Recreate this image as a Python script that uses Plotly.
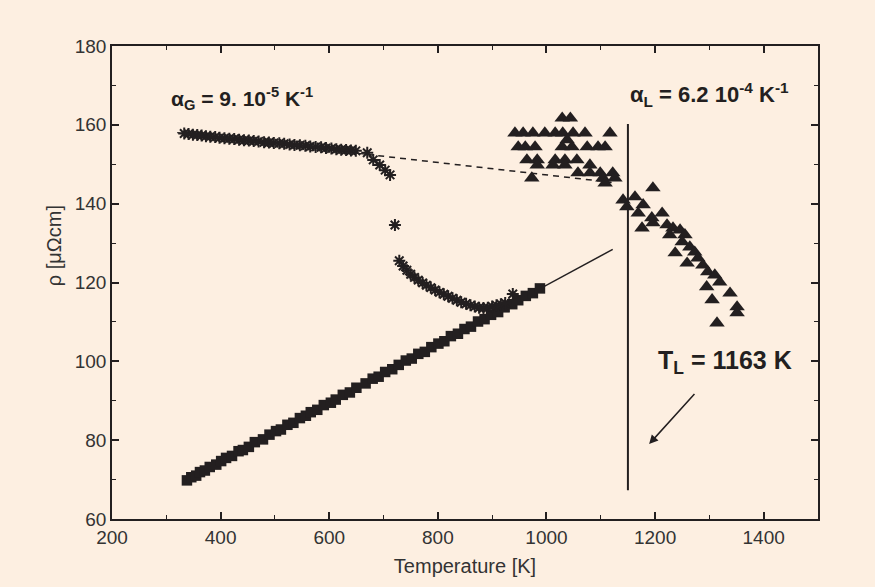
import plotly.graph_objects as go

# Crystalline state (squares): temperature [K], resistivity [µΩcm]
sq_T = [338, 346, 355, 362, 371, 380, 392, 401, 410, 421, 433, 441, 452, 463, 478,
        490, 502, 511, 523, 534, 546, 557, 566, 578, 590, 603, 612, 625, 638, 650,
        667, 680, 691, 703, 716, 728, 741, 752, 764, 776, 788, 801, 812, 824, 837,
        849, 861, 874, 886, 898, 911, 923, 937, 948, 962, 975, 988]
sq_rho = [69.8, 70.6, 71.0, 71.9, 72.3, 73.2, 73.8, 74.7, 75.5, 76.0, 77.2, 77.5, 78.3, 79.5, 80.2,
          81.4, 82.3, 82.7, 83.9, 84.4, 85.6, 86.2, 87.1, 87.7, 88.9, 89.5, 90.3, 91.5, 92.1, 93.3,
          94.4, 95.6, 96.1, 97.3, 98.0, 99.1, 100.2, 100.7, 101.9, 102.4, 103.6, 104.5, 105.1, 106.4, 107.0,
          108.2, 108.8, 110.1, 110.7, 111.8, 112.5, 113.7, 114.5, 115.5, 116.6, 117.3, 118.5]

# Amorphous film on heating (asterisks)
gl_T = [333, 341, 349, 357, 365, 373, 381, 390, 398, 407, 416, 425, 434, 443, 452,
        461, 470, 480, 489, 498, 508, 517, 527, 536, 546, 556, 565, 575, 585, 594,
        604, 613, 622, 631, 640, 649, 670, 681, 693, 703, 712,
        721,
        729, 736, 743, 750, 757, 764, 772, 779, 787, 795, 803, 811, 819, 827, 835,
        843, 852, 860, 868, 876, 884, 892, 900, 908, 916, 924, 938]
gl_rho = [157.8, 157.7, 157.5, 157.4, 157.3, 157.1, 157.0, 156.9, 156.7, 156.6, 156.5, 156.4, 156.2, 156.1, 156.0,
          155.9, 155.8, 155.6, 155.5, 155.4, 155.3, 155.2, 155.0, 154.9, 154.8, 154.7, 154.5, 154.4, 154.3, 154.1,
          154.0, 153.8, 153.7, 153.6, 153.5, 153.4, 152.9, 151.1, 149.8, 148.5, 147.3,
          134.6,
          125.5, 124.2, 123.1, 122.1, 121.3, 120.6, 119.9, 119.3, 118.7, 118.1, 117.5, 117.0, 116.5, 116.0, 115.5,
          115.0, 114.6, 114.2, 113.9, 113.6, 113.5, 113.6, 113.9, 114.2, 114.5, 114.8, 117.1]

# Liquid / melting region (triangles)
lq_T = [1029, 1044,
        942, 957, 975, 997, 1016, 1030, 1049, 1071, 1117,
        948, 961, 979, 1029, 1047, 1075, 1095, 1108, 1038,
        964, 983, 1016, 1034, 1056,
        983, 1012, 1034, 1080,
        1058, 1080, 1099, 1122,
        973, 1104, 1126, 1108,
        1196, 1163, 1141, 1178, 1148, 1169, 1213, 1194, 1196, 1176,
        1222, 1233, 1246, 1227, 1255, 1250, 1264, 1273, 1237, 1279,
        1259, 1288, 1297, 1310, 1319, 1295, 1338, 1305, 1351, 1351, 1314]
lq_rho = [161.7, 161.7,
          157.9, 157.9, 157.9, 157.9, 157.9, 157.9, 157.9, 157.9, 157.9,
          154.4, 154.4, 154.4, 154.4, 154.4, 154.4, 154.4, 154.4, 156.2,
          151.1, 151.1, 151.1, 151.1, 151.1,
          149.8, 149.8, 149.8, 149.8,
          147.8, 147.8, 147.8, 147.8,
          146.5, 146.5, 146.5, 145.2,
          144.0, 141.7, 140.9, 139.7, 139.2, 137.6, 137.6, 136.4, 135.1, 133.8,
          134.6, 133.8, 133.3, 132.1, 132.1, 130.3, 129.0, 127.7, 127.5, 126.2,
          124.9, 124.4, 122.7, 121.9, 120.1, 118.9, 117.3, 115.6, 113.8, 112.3, 109.7]

# Linear fits: crystalline line, amorphous line and its extrapolation
fit_cr_T = [330, 1122]
fit_cr_rho = [69.4, 128.4]
fit_gl_T = [320, 670]
fit_gl_rho = [158.0, 152.5]
ext_gl_T = [670, 1120]
ext_gl_rho = [152.5, 145.4]

# Liquidus marker line
tl_T = [1150, 1150]
tl_rho = [67.3, 160.2]

ink = "#231f20"
label_ink = "#333333"
bg = "#fdefe1"
font_main = "Arial, Liberation Sans, Helvetica, sans-serif"

fig = go.Figure()

fig.add_trace(go.Scatter(x=fit_cr_T, y=fit_cr_rho, mode="lines",
                         line=dict(color=ink, width=1.5), showlegend=False))
fig.add_trace(go.Scatter(x=fit_gl_T, y=fit_gl_rho, mode="lines",
                         line=dict(color=ink, width=1.2), showlegend=False))
fig.add_trace(go.Scatter(x=ext_gl_T, y=ext_gl_rho, mode="lines",
                         line=dict(color=ink, width=1.5, dash="6px,5px"), showlegend=False))
fig.add_trace(go.Scatter(x=tl_T, y=tl_rho, mode="lines",
                         line=dict(color=ink, width=2), showlegend=False))

fig.add_trace(go.Scatter(x=sq_T, y=sq_rho, mode="markers",
                         marker=dict(symbol="square", size=10.5, color=ink,
                                     line=dict(width=0)), showlegend=False))
fig.add_trace(go.Scatter(x=gl_T, y=gl_rho, mode="markers",
                         marker=dict(symbol="asterisk-open", size=10, color=ink,
                                     line=dict(color=ink, width=2)), showlegend=False))
fig.add_trace(go.Scatter(x=lq_T, y=lq_rho, mode="markers",
                         marker=dict(symbol="triangle-up", size=13.5, color=ink,
                                     line=dict(width=0)), showlegend=False))

fig.add_annotation(x=305, y=166.8, xref="x", yref="y", xanchor="left", yanchor="middle",
                   text="<b>α<sub>G</sub> = 9. 10<sup>-5</sup> K<sup>-1</sup></b>",
                   showarrow=False, font=dict(family=font_main, size=21, color=ink))
fig.add_annotation(x=1150, y=167.6, xref="x", yref="y", xanchor="left", yanchor="middle",
                   text="<b>α<sub>L</sub> = 6.2 10<sup>-4</sup> K<sup>-1</sup></b>",
                   showarrow=False, font=dict(family=font_main, size=22, color=ink))
fig.add_annotation(x=1201, y=99.8, xref="x", yref="y", xanchor="left", yanchor="middle",
                   text="<b>T<sub>L</sub> = 1163 K</b>",
                   showarrow=False, font=dict(family=font_main, size=25, color=ink))
fig.add_annotation(x=1189, y=79.0, ax=1275, ay=92.1, xref="x", yref="y",
                   axref="x", ayref="y", text="", showarrow=True,
                   arrowhead=2, arrowsize=1.2, arrowwidth=1.5, arrowcolor=ink)

# y-axis title placed as rotated text beside the axis
fig.add_annotation(x=-0.082, y=0.577, xref="paper", yref="paper",
                   xanchor="center", yanchor="middle", textangle=-90,
                   text="ρ [μΩcm]", showarrow=False,
                   font=dict(family=font_main, size=20, color=label_ink))

axis_common = dict(showline=True, linecolor=ink, linewidth=1.5, mirror="ticks",
                   ticks="inside", ticklen=7, tickwidth=1.5, tickcolor=ink,
                   showgrid=False, zeroline=False,
                   tickfont=dict(family=font_main, size=19, color=label_ink))

fig.update_xaxes(range=[200, 1500], dtick=200, tick0=200,
                 minor=dict(ticks="inside", ticklen=4, tickwidth=1.2, tickcolor=ink, dtick=100),
                 title=dict(text="Temperature [K]", font=dict(family=font_main, size=20, color=label_ink),
                            standoff=12),
                 **axis_common)
fig.update_yaxes(range=[60, 180], dtick=20, tick0=60,
                 minor=dict(ticks="inside", ticklen=4, tickwidth=1.2, tickcolor=ink, dtick=10),
                 **axis_common)

fig.update_layout(width=875, height=587, margin=dict(l=112, r=57, t=46, b=68),
                  paper_bgcolor=bg, plot_bgcolor=bg, showlegend=False)

fig.write_html("out.html")
